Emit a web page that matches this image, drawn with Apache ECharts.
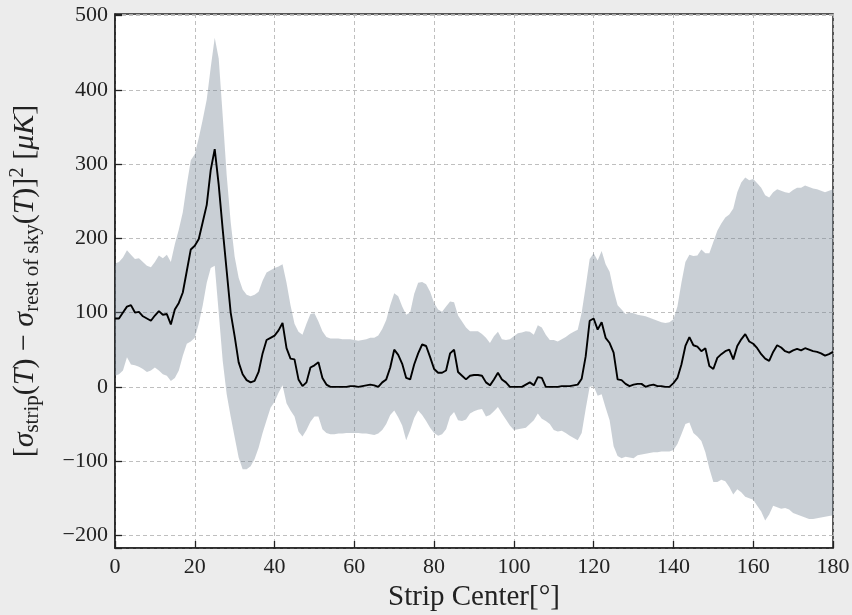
<!DOCTYPE html>
<html>
<head>
<meta charset="utf-8">
<script src="https://cdn.jsdelivr.net/npm/echarts@6/dist/echarts.min.js"></script>
<style>
html,body{margin:0;padding:0;background:#ececec;}
#chart{width:852px;height:615px;}
</style>
</head>
<body>
<div id="chart"></div>
<script>
// Strip centre in degrees, sampled every 1 degree from 0 to 180
const xStart = 0, xStep = 1;

const meanVals = [92,92,100,108,110,100,101,95,92,89,96,102,97,98,84,104,113,127,156,185,190,199,222,245,292,320,272,212,156,100,68,33,17,9,6,8,20,45,63,66,69,76,86,52,38,37,10,1,6,26,29,33,12,3,0,0,0,0,0,1,1,0,1,2,3,2,0,6,10,26,50,43,31,12,10,30,45,57,55,40,24,19,19,22,45,50,20,15,10,15,16,16,15,6,2,10,19,10,6,0,0,0,0,3,6,2,13,12,0,0,0,0,1,1,1,2,3,11,41,89,92,77,87,66,59,46,10,9,4,1,3,4,4,0,2,3,1,1,0,0,5,12,30,55,67,56,54,48,52,28,24,39,44,48,50,37,55,64,71,61,58,52,44,38,35,47,56,53,48,46,49,51,49,52,50,48,47,45,42,44,47];

const upperVals = [166,168,174,184,178,172,173,168,163,161,168,177,173,178,168,192,212,235,272,305,313,335,360,387,430,470,442,365,285,222,175,147,131,124,122,124,128,143,154,157,160,162,165,140,110,85,74,70,85,98,99,88,75,67,65,65,65,64,64,64,63,62,63,64,66,66,69,78,90,110,126,122,108,97,100,125,140,141,138,128,113,104,101,108,115,114,96,88,80,75,75,75,71,66,59,68,74,64,63,64,68,72,73,75,74,70,83,80,70,63,63,61,64,67,71,74,77,100,135,172,180,170,183,165,155,130,110,104,98,100,99,97,96,95,93,91,89,87,86,87,91,108,140,168,178,176,177,185,180,180,195,210,220,228,232,240,262,275,282,278,280,274,268,258,255,262,266,264,262,261,265,268,268,271,269,267,266,264,262,264,266];

const lowerVals = [15,17,22,40,30,29,27,24,20,22,26,22,17,15,8,12,22,42,58,61,66,85,110,140,160,163,100,35,-10,-40,-68,-95,-111,-111,-107,-97,-82,-62,-45,-28,-20,-8,2,-22,-32,-40,-60,-67,-58,-47,-40,-40,-57,-62,-64,-64,-63,-63,-62,-62,-62,-62,-63,-63,-64,-65,-63,-58,-50,-38,-32,-41,-52,-72,-58,-42,-32,-38,-46,-55,-62,-66,-64,-57,-40,-34,-45,-46,-44,-36,-33,-31,-30,-40,-38,-33,-27,-36,-44,-52,-58,-57,-56,-55,-50,-45,-36,-43,-46,-50,-58,-60,-59,-62,-66,-69,-72,-62,-30,0,1,-12,-10,-28,-45,-80,-93,-96,-94,-95,-96,-92,-91,-90,-89,-88,-88,-87,-87,-87,-85,-77,-64,-50,-48,-62,-67,-73,-88,-110,-128,-128,-125,-127,-135,-145,-138,-142,-148,-150,-152,-160,-168,-180,-172,-160,-162,-164,-163,-165,-170,-172,-174,-176,-178,-178,-177,-176,-175,-174,-173];

const xTicks = [0,20,40,60,80,100,120,140,160,180];
const yTicks = [-200,-100,0,100,200,300,400,500];

const xs = meanVals.map((_, i) => xStart + i * xStep);
const meanData = xs.map((x, i) => [x, meanVals[i]]);
const bandData = xs.map((x, i) => [x, lowerVals[i], upperVals[i]]);

const FONT = '"Liberation Serif", "DejaVu Serif", serif';
const fmtNum = v => (v < 0 ? '\u2212' + Math.abs(v) : String(v));

const chart = echarts.init(document.getElementById('chart'), null, {renderer: 'canvas'});
chart.setOption({
  backgroundColor: '#ececec',
  animation: false,
  grid: {
    left: 115, right: 19, top: 14, bottom: 67,
    containLabel: false, outerBoundsMode: 'none',
    show: true, backgroundColor: '#ffffff', borderColor: '#222222', borderWidth: 1.5
  },
  xAxis: {
    type: 'value', min: 0, max: 180, interval: 20,
    name: 'Strip Center[°]', nameLocation: 'middle', nameGap: 31,
    nameTextStyle: {fontFamily: FONT, fontSize: 29, color: '#222'},
    axisLine: {show: true, onZero: false, lineStyle: {color: '#222', width: 1.5}},
    axisTick: {show: true, inside: true, length: 7, lineStyle: {color: '#222', width: 1.3}},
    axisLabel: {fontFamily: FONT, fontSize: 22, color: '#222', margin: 8,
      formatter: v => xTicks.indexOf(v) >= 0 ? fmtNum(v) : ''},
    splitLine: {show: true, lineStyle: {color: '#b8b8b8', type: [4, 3], width: 0.9}}
  },
  yAxis: {
    type: 'value', min: -217, max: 502, splitNumber: 7,
    name: '{b|[}{g|σ}{sub|strip}{b|(}{g|T}{b|) \u2212 }{g|σ}{sub|rest of sky}{b|(}{g|T}{b|)]}{sup|2}{b| [}{g|μK}{b|]}',
    nameLocation: 'middle', nameGap: 72, nameRotate: 90,
    nameTextStyle: {
      fontFamily: FONT, fontSize: 30, color: '#222',
      rich: {
        b: {fontFamily: FONT, fontSize: 30, color: '#222', lineHeight: 36, verticalAlign: 'middle'},
        g: {fontFamily: FONT, fontSize: 30, fontStyle: 'italic', color: '#222', lineHeight: 36, verticalAlign: 'middle'},
        sub: {fontFamily: FONT, fontSize: 21, color: '#222', lineHeight: 36, verticalAlign: 'bottom'},
        sup: {fontFamily: FONT, fontSize: 21, color: '#222', lineHeight: 36, verticalAlign: 'top'}
      }
    },
    axisLine: {show: true, onZero: false, lineStyle: {color: '#222', width: 1.5}},
    axisTick: {show: true, inside: true, length: 7, lineStyle: {color: '#222', width: 1.3}},
    axisLabel: {fontFamily: FONT, fontSize: 22, color: '#222', margin: 7,
      formatter: v => yTicks.indexOf(v) >= 0 ? fmtNum(v) : ''},
    splitLine: {show: true, lineStyle: {color: '#b8b8b8', type: [4, 3], width: 0.9}}
  },
  series: [
    {
      type: 'custom',
      data: bandData,
      encode: {x: 0, y: [1, 2]},
      clip: true,
      silent: true,
      z: 1,
      renderItem: function (params, api) {
        if (params.dataIndex !== 0) return null;
        const pts = [];
        for (let i = 0; i < bandData.length; i++) pts.push(api.coord([bandData[i][0], bandData[i][2]]));
        for (let i = bandData.length - 1; i >= 0; i--) pts.push(api.coord([bandData[i][0], bandData[i][1]]));
        return {
          type: 'polygon',
          shape: {points: pts},
          style: {fill: 'rgba(112,128,144,0.38)', stroke: 'none'}
        };
      }
    },
    {
      type: 'line', data: meanData, showSymbol: false, symbol: 'none',
      lineStyle: {color: '#000000', width: 1.9}, z: 3
    }
  ]
});
</script>
</body>
</html>
